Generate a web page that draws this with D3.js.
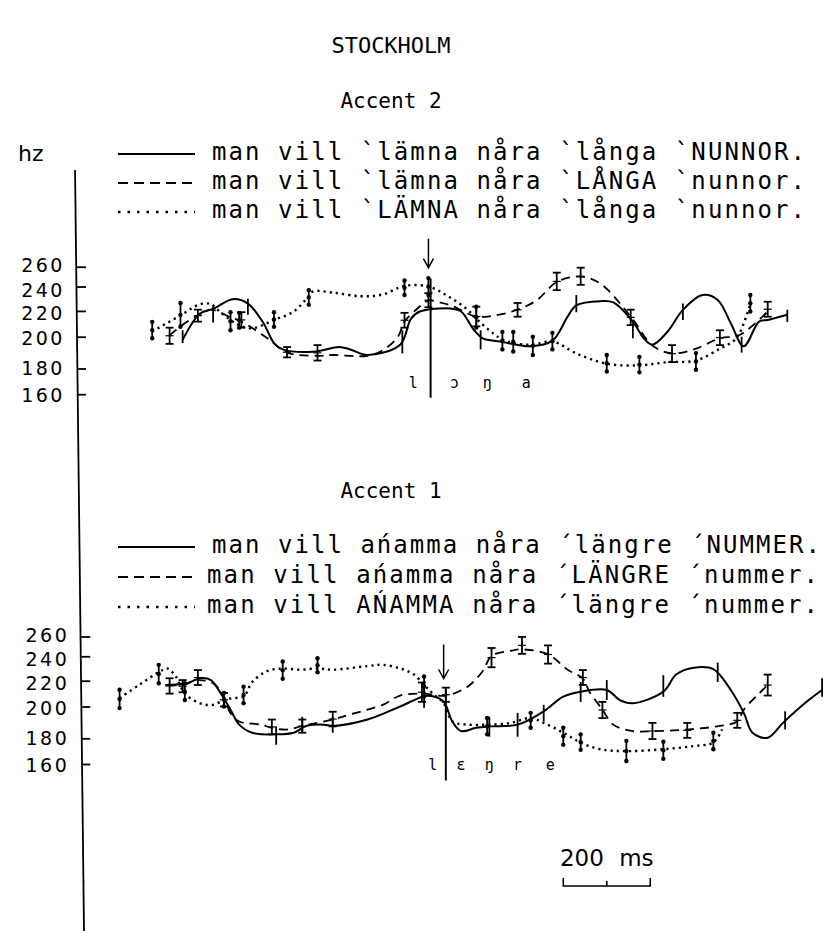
<!DOCTYPE html>
<html><head><meta charset="utf-8">
<script src="https://cdn.jsdelivr.net/npm/d3@7"></script>
<style>
body{margin:0;background:#fff;}
svg{display:block;background:#fff;}
</style></head><body>
<svg id="c" width="829" height="931"></svg>
<script>
// ---------- DATA ----------
const yTicks = [160, 180, 200, 220, 240, 260];
const titleText = "STOCKHOLM";
const panelTitles = ["Accent 2", "Accent 1"];
const legendTop = ["man vill `lämna nåra `långa `NUNNOR.", "man vill `lämna nåra `LÅNGA `nunnor.", "man vill `LÄMNA nåra `långa `nunnor."];
const legendBottom = ["man vill ańamma nåra ´längre ´NUMMER.", "man vill ańamma nåra ´LÄNGRE ´nummer.", "man vill AŃAMMA nåra ´längre ´nummer."];
const phonTop = ["l", "ɔ", "ŋ", "a"];
const phonTopT = [720, 815, 890, 980];
const phonBot = ["l", "ɛ", "ŋ", "r", "e"];
const phonBotT = [765, 830, 895, 960, 1035];
const markTop = {arrow: 755, line: 760};
const markBot = {arrow: 790, line: 795};
const scaleBar = {start: 1065, length: 200, label: "200 ms"};

// Accent 2 (top), [time ms, Hz]
const a2Solid = [[190,198],[230,218],[260,221.6],[305,229.6],[340,226],[375,211],[400,196],[420,192],[490,190.5],[550,193.5],[575,192],[615,188.5],[690,195],[715,214],[735,219.5],[805,222],[830,219.5],[860,205],[880,199],[920,197],[990,194],[1040,197.5],[1075,215.6],[1095,224.6],[1150,228],[1180,227],[1225,211.7],[1250,199],[1270,195],[1305,204],[1340,220.8],[1385,233],[1420,229],[1450,210.5],[1480,194],[1515,211.7],[1535,213],[1580,217]];
const a2SolidBars = [[190,196,205],[260,211,224],[340,217,230],[695,189.5,205],[875,192,205],[1095,219,233],[1225,199,211],[1340,213,226],[1475,190,200],[1580,211.5,221]];
const a2Dashed = [[160,201],[185,208],[225,216.5],[255,221],[300,215],[325,211.7],[385,199],[430,190],[500,188],[535,188.5],[615,188],[650,191.5],[685,200],[700,211.7],[730,222],[755,228.5],[780,227],[810,224],[865,215.6],[915,217],[960,221],[1005,229],[1050,244.5],[1105,250],[1150,243],[1220,215.6],[1270,194.5],[1315,189.5],[1370,192.5],[1425,199],[1470,201.3],[1535,219.5]];
const a2DashedBars = [[160,195.5,207],[225,211.7,221],[325,207,219],[430,187,193.5],[500,185,194.7],[700,207,218.5],[755,223,234.5],[865,208,223.5],[960,215.5,226.5],[1050,237,254],[1105,241.7,259],[1220,209,221],[1315,184,194.7],[1425,194.7,205],[1535,215.5,227.5]];
const a2Dotted = [[120,204],[185,216.5],[230,225.5],[255,225.5],[275,219.5],[300,213],[320,209],[350,206.5],[400,213],[445,219.5],[480,232],[490,236],[535,235],[600,232],[650,233.5],[700,240.6],[755,240],[800,232],[845,221],[865,214],[895,205],[920,199],[950,196],[995,195],[1040,197],[1095,189.5],[1165,183],[1240,182],[1305,184],[1370,185],[1425,192.5],[1455,197],[1470,202.5],[1495,225.5]];
const a2DottedBars = [[120,199,211.5],[185,207.7,226.5],[300,205,219],[320,207,218.5],[400,207.7,219],[480,225,237],[700,233,246],[755,233,248.5],[865,207,223.5],[925,192,203.6],[950,190.7,203.6],[995,188.5,200],[1040,192,203],[1165,177.7,188.5],[1240,177,187.3],[1370,179,189.7],[1495,219.5,233]];

// Accent 1 (bottom)
const a1Solid = [[150,216.7],[200,218],[230,222],[255,220.5],[275,211.5],[300,198],[320,188.6],[350,183.5],[405,182.5],[445,183.5],[475,187.8],[515,188.6],[535,187.8],[615,191.8],[690,200],[745,208],[765,208],[790,203.8],[810,190.6],[830,184.5],[865,186.6],[895,187.5],[960,188.6],[1020,197],[1065,207.7],[1105,211.5],[1165,212.8],[1195,205],[1225,202.6],[1295,211.5],[1325,225.3],[1365,230.7],[1410,229.5],[1450,212.8],[1480,196],[1500,183.5],[1535,180.3],[1570,189.7],[1625,203.8],[1660,212.8]];
const a1SolidBars = [[405,175,187.5],[465,183.5,193.5],[535,183.5,193.5],[745,199.2,216.7],[895,181,193.5],[960,181,196],[1020,190.6,201.3],[1105,203.6,219],[1165,205,220.5],[1295,207.5,224.6],[1420,219,234.8],[1575,185.6,197],[1660,207.5,222]];
const a1Dashed = [[155,216.7],[190,216.7],[225,220.5],[260,218],[285,207.7],[300,195.7],[320,190.6],[370,188.6],[395,186.6],[430,185.5],[465,187.8],[535,191.8],[575,195],[650,201.3],[690,208.5],[740,210],[795,208.5],[845,215.4],[880,228],[900,240.5],[945,245.6],[970,247],[1030,242],[1075,229],[1110,221.8],[1125,211.5],[1155,198],[1180,188.6],[1225,184.5],[1270,184.5],[1350,185.5],[1425,187.8],[1465,190.6],[1480,198],[1515,210],[1535,216.7]];
const a1DashedBars = [[160,210,222],[190,211,220.5],[225,216.7,228.7],[285,200,210.5],[395,182.5,191.8],[465,183.5,191.8],[535,187.5,196.7],[740,203.6,218.6],[795,203.6,214.6],[900,231,248.4],[970,242.5,259.6],[1030,234,251],[1110,216.7,228.7],[1155,192.7,203.6],[1270,179.4,189.7],[1350,180.3,189.7],[1465,186.6,196],[1535,208.5,225]];
const a1Dotted = [[45,206.5],[90,216.7],[135,227],[155,230],[175,223],[195,210],[230,202.5],[260,201.3],[285,205],[305,206.5],[330,207.7],[350,219],[385,228],[420,230],[460,229],[500,230],[535,229],[615,232],[650,233],[690,230],[720,225.5],[745,216.7],[765,210],[790,202.5],[810,190.6],[845,188.6],[890,188.6],[945,189.7],[990,192.8],[1020,189.7],[1065,183.5],[1105,176.7],[1150,171.5],[1210,170],[1295,171.5],[1365,174],[1410,176.7],[1430,185.6]];
const a1DottedBars = [[45,199,213],[135,218,233],[195,205,218],[285,200,210.5],[330,202.5,215.4],[420,221.6,235.7],[500,227,238.4],[745,208,223.5],[890,182.5,192.8],[990,186.6,196],[1065,175,186.6],[1105,171,182.5],[1210,162.3,178],[1295,164,177.4],[1410,171.5,183.5]];

// ---------- LAYOUT ----------
const svg = d3.select("#c");
const MONO = "'DejaVu Sans Mono', 'Liberation Mono', monospace";
const SANS = "'DejaVu Sans', 'Liberation Sans', sans-serif";
const x = d3.scaleLinear().domain([0, 1800]).range([100, 883]);
const tickOffsets = [127.5, 101.8, 70, 44.2, 19.8, 0];
const labelShift = {160: 1, 180: 0, 200: 2, 220: 2.5, 240: 3.5, 260: -1};
const axisX = y => 75 + (y - 165) * (9 / 766);

const styles = {
  solid:  {dash: null, width: 2},
  dashed: {dash: "9,6", width: 1.8},
  dotted: {dash: "2.2,4", width: 2.4}
};

// title texts
svg.append("text").attr("x", 391).attr("y", 53).attr("text-anchor", "middle")
  .style("font-family", MONO).style("font-size", "22px").text(titleText);
svg.append("text").attr("x", 391).attr("y", 108).attr("text-anchor", "middle")
  .style("font-family", MONO).style("font-size", "21px").text(panelTitles[0]);
svg.append("text").attr("x", 391).attr("y", 498).attr("text-anchor", "middle")
  .style("font-family", MONO).style("font-size", "21px").text(panelTitles[1]);
svg.append("text").attr("x", 18).attr("y", 161)
  .style("font-family", SANS).style("font-size", "22px").text("hz");

// vertical axis line (slightly skewed as in the scan)
svg.append("line").attr("x1", axisX(170)).attr("y1", 170).attr("x2", axisX(931)).attr("y2", 931)
  .attr("stroke", "#000").attr("stroke-width", 1.8);

function drawLegend(rows, baselines, textStart, widths) {
  const kinds = ["solid", "dashed", "dotted"];
  rows.forEach((t, i) => {
    const ly = baselines[i] - 6;
    svg.append("line").attr("x1", 118).attr("x2", 195).attr("y1", ly).attr("y2", ly)
      .attr("stroke", "#000").attr("stroke-width", kinds[i] === "dotted" ? 2.5 : 2)
      .attr("stroke-dasharray", kinds[i] === "dashed" ? "10,6" : kinds[i] === "dotted" ? "2.5,7" : null);
    svg.append("text").attr("x", textStart[i]).attr("y", baselines[i])
      .attr("textLength", widths[i]).attr("lengthAdjust", "spacing")
      .style("font-family", MONO).style("font-size", "24px").text(t);
  });
}
drawLegend(legendTop, [160, 189, 218], [212, 212, 212], [593, 593, 593]);
drawLegend(legendBottom, [553, 583, 613], [212, 207, 207], [608, 611, 611]);

function drawPanel(top, series, mark, phon, phonT, phonY, lineExt, arrowExt) {
  const y = d3.scaleLinear().domain(yTicks).range(tickOffsets.map(o => top + o));
  const ax = axisX(top + 64);
  const g = svg.append("g").attr("transform", `translate(${ax},0)`);
  g.call(d3.axisLeft(y).tickValues(yTicks).tickSizeInner(-9).tickSizeOuter(0).tickPadding(12).tickFormat(d3.format("d")));
  g.select(".domain").remove();
  g.selectAll(".tick line").attr("stroke", "#000").attr("stroke-width", 1.8);
  g.selectAll(".tick text").style("font-family", SANS).style("font-size", "19px")
    .style("letter-spacing", "2.5px").attr("fill", "#000")
    .attr("y", d => labelShift[d]);

  const line = d3.line().x(d => x(d[0])).y(d => y(d[1])).curve(d3.curveCatmullRom.alpha(0.5));
  series.forEach(s => {
    const st = styles[s.kind];
    svg.append("path").datum(s.data).attr("d", line).attr("fill", "none")
      .attr("stroke", "#000").attr("stroke-width", st.width)
      .attr("stroke-dasharray", st.dash);
    const bars = svg.append("g");
    s.bars.forEach(b => {
      const bx = x(b[0]), y1 = y(b[1]), y2 = y(b[2]);
      bars.append("line").attr("x1", bx).attr("x2", bx).attr("y1", y1).attr("y2", y2)
        .attr("stroke", "#000").attr("stroke-width", 1.8);
      if (s.kind === "dashed") {
        [y1, y2].forEach(yy => bars.append("line").attr("x1", bx - 4).attr("x2", bx + 4)
          .attr("y1", yy).attr("y2", yy).attr("stroke", "#000").attr("stroke-width", 1.8));
        bars.append("line").attr("x1", bx - 4).attr("x2", bx + 4)
          .attr("y1", (y1 + y2) / 2).attr("y2", (y1 + y2) / 2).attr("stroke", "#000").attr("stroke-width", 1.2);
      } else if (s.kind === "dotted") {
        [y1, y2, (y1 + y2) / 2].forEach(yy => bars.append("circle").attr("cx", bx).attr("cy", yy).attr("r", 2.2).attr("fill", "#000"));
      }
    });
  });

  // alignment line and arrow
  svg.append("line").attr("x1", x(mark.line)).attr("x2", x(mark.line))
    .attr("y1", top + lineExt[0]).attr("y2", top + lineExt[1]).attr("stroke", "#000").attr("stroke-width", 2);
  const axX = x(mark.arrow), a0 = top + arrowExt[0], a1 = top + arrowExt[1];
  svg.append("line").attr("x1", axX).attr("x2", axX).attr("y1", a0).attr("y2", a1).attr("stroke", "#000").attr("stroke-width", 1.5);
  svg.append("path").attr("d", `M${axX - 5},${a1 - 9} L${axX},${a1} L${axX + 5},${a1 - 9}`)
    .attr("fill", "none").attr("stroke", "#000").attr("stroke-width", 1.5);

  phon.forEach((p, i) => {
    svg.append("text").attr("x", x(phonT[i])).attr("y", phonY).attr("text-anchor", "middle")
      .style("font-family", MONO).style("font-size", "15px").attr("fill", "#000").text(p);
  });
}

drawPanel(266.7, [
  {kind: "solid", data: a2Solid, bars: a2SolidBars},
  {kind: "dashed", data: a2Dashed, bars: a2DashedBars},
  {kind: "dotted", data: a2Dotted, bars: a2DottedBars}
], markTop, phonTop, phonTopT, 388, [12, 131], [-28, 1]);

drawPanel(636.5, [
  {kind: "solid", data: a1Solid, bars: a1SolidBars},
  {kind: "dashed", data: a1Dashed, bars: a1DashedBars},
  {kind: "dotted", data: a1Dotted, bars: a1DottedBars}
], markBot, phonBot, phonBotT, 770, [53, 144], [8, 42]);

// scale bar
const sb0 = x(scaleBar.start), sb1 = x(scaleBar.start + scaleBar.length), sbm = x(scaleBar.start + scaleBar.length / 2);
svg.append("text").attr("x", (sb0 + sb1) / 2).attr("y", 866).attr("text-anchor", "middle")
  .style("font-family", SANS).style("font-size", "23px").style("word-spacing", "8px").text(scaleBar.label);
svg.append("path").attr("d", `M${sb0},878 L${sb0},886 L${sb1},886 L${sb1},878 M${sbm},881 L${sbm},886`)
  .attr("fill", "none").attr("stroke", "#000").attr("stroke-width", 1.6);
</script>
</body></html>
